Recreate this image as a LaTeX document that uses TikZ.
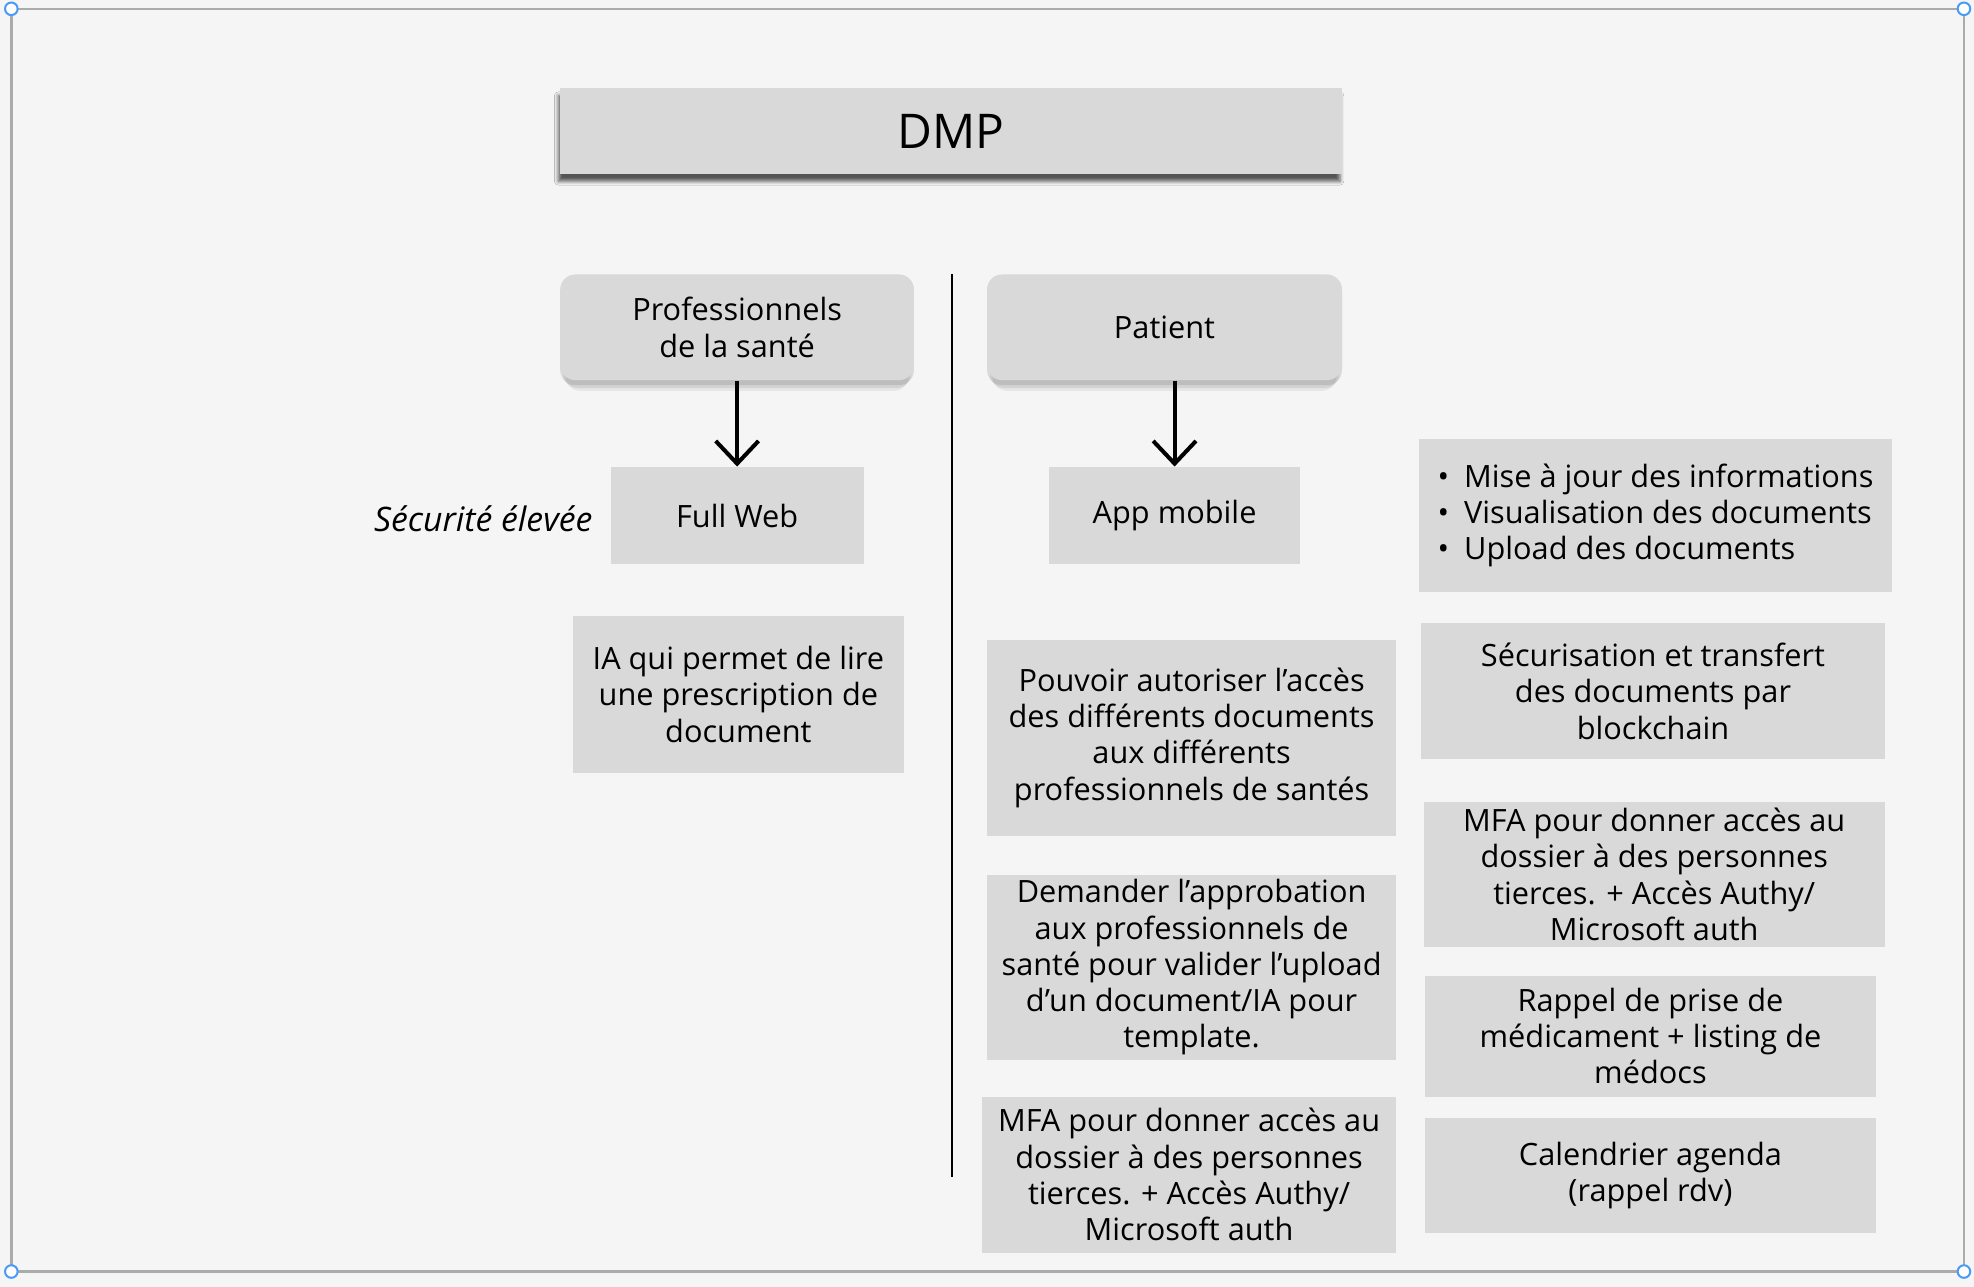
\documentclass[tikz,border=0pt]{standalone}
\usepackage{fontspec}
\setmainfont{Open Sans}
\usepackage{tikz}
\usetikzlibrary{arrows.meta,shadows,shadows.blur}

\definecolor{pagebg}{HTML}{F5F5F5}
\definecolor{boxgray}{HTML}{D9D9D9}
\definecolor{framegray}{HTML}{ABABAB}
\definecolor{handleblue}{HTML}{4A9BF5}

\begin{document}
\begin{tikzpicture}[x=0.5pt,y=-0.5pt,
  card/.style={fill=boxgray, inner sep=0pt, align=center,
    font=\fontsize{12.2}{14.4}\selectfont},
  actor/.style={card, rounded corners=6pt,
    drop shadow={shadow xshift=0pt, shadow yshift=-5pt, shadow scale=0.97, opacity=0.06, fill=black},
    drop shadow={shadow xshift=0pt, shadow yshift=-3.5pt, shadow scale=0.985, opacity=0.08, fill=black},
    drop shadow={shadow xshift=0pt, shadow yshift=-2pt, opacity=0.10, fill=black}},
  flow/.style={line width=1.6pt, -{Straight Barb[length=9pt,width=17pt,line width=1.6pt]}},
  handle/.style={draw=handleblue, fill=white, line width=0.8pt}]

% page and frame
\fill[pagebg] (0,0) rectangle (1568,1022);
\draw[framegray, line width=1pt] (9,7) rectangle (1560,1010);
\foreach \p in {(9,7),(1560,7),(9,1010),(1560,1010)}
  \draw[handle] \p circle (5);

% title
\node[card, minimum width=310.5pt, minimum height=34pt,
  font=\fontsize{19}{22}\selectfont,
  blur shadow={shadow xshift=-0.8pt, shadow yshift=-3pt, shadow blur radius=1.5pt, shadow opacity=65}]
  (dmp) at (755.5,104) {DMP};

% the two users
\node[actor, minimum width=140.5pt, minimum height=42pt] (pro) at (585.5,260) {Professionnels\\de la santé};
\node[actor, minimum width=141pt, minimum height=42pt] (pat) at (925,260) {Patient};

% separator
\coordinate (septop) at (756,218);
\coordinate (sepbot) at (756,935);
\draw[line width=0.8pt] (septop) -- (sepbot);

% platforms
\node[card, minimum width=100.5pt, minimum height=38.5pt] (web) at (585.5,409.5) {Full Web};
\node[card, minimum width=100pt, minimum height=38.5pt] (app) at (933,409.5) {App mobile};
\node[anchor=east, inner sep=0pt, font=\fontsize{13.4}{15}\selectfont\itshape] (secu) at (471,412) {Sécurité élevée};

\draw[flow] (pro.south -| web.north) -- (web.north);
\draw[flow] (pat.south -| app.north) -- (app.north);

% features, professional side
\node[card, minimum width=131.5pt, minimum height=62.5pt] (ia) at (586.5,551.5)
  {IA qui permet de lire\\une prescription de\\document};

% features, patient side
\node[card, minimum width=188pt, minimum height=60.5pt, align=left] (feat) at (1315,409.5)
  {\textbullet\hspace{6pt}Mise à jour des informations\\
   \textbullet\hspace{6pt}Visualisation des documents\\
   \textbullet\hspace{6pt}Upload des documents};
\node[card, minimum width=162.5pt, minimum height=78pt] (acces) at (946.5,586)
  {Pouvoir autoriser l’accès\\des différents documents\\aux différents\\professionnels de santés};
\node[card, minimum width=184pt, minimum height=54pt] (chain) at (1313,549)
  {Sécurisation et transfert\\des documents par\\blockchain};
\node[card, minimum width=183pt, minimum height=57.5pt] (mfab) at (1314,694.5)
  {MFA pour donner accès au\\dossier à des personnes\\tierces. + Accès Authy/\\Microsoft auth};
\node[card, minimum width=162.5pt, minimum height=73.5pt] (valid) at (946.5,768.5)
  {Demander l’approbation\\aux professionnels de\\santé pour valider l’upload\\d’un document/IA pour\\template.};
\node[card, minimum width=179pt, minimum height=48pt] (rappel) at (1311,823)
  {Rappel de prise de\\médicament + listing de\\médocs};
\node[card, minimum width=164.5pt, minimum height=62pt] (mfaa) at (944.5,933)
  {MFA pour donner accès au\\dossier à des personnes\\tierces. + Accès Authy/\\Microsoft auth};
\node[card, minimum width=179pt, minimum height=45.5pt] (agenda) at (1311,933.5)
  {Calendrier agenda\\(rappel rdv)};

\end{tikzpicture}
\end{document}
